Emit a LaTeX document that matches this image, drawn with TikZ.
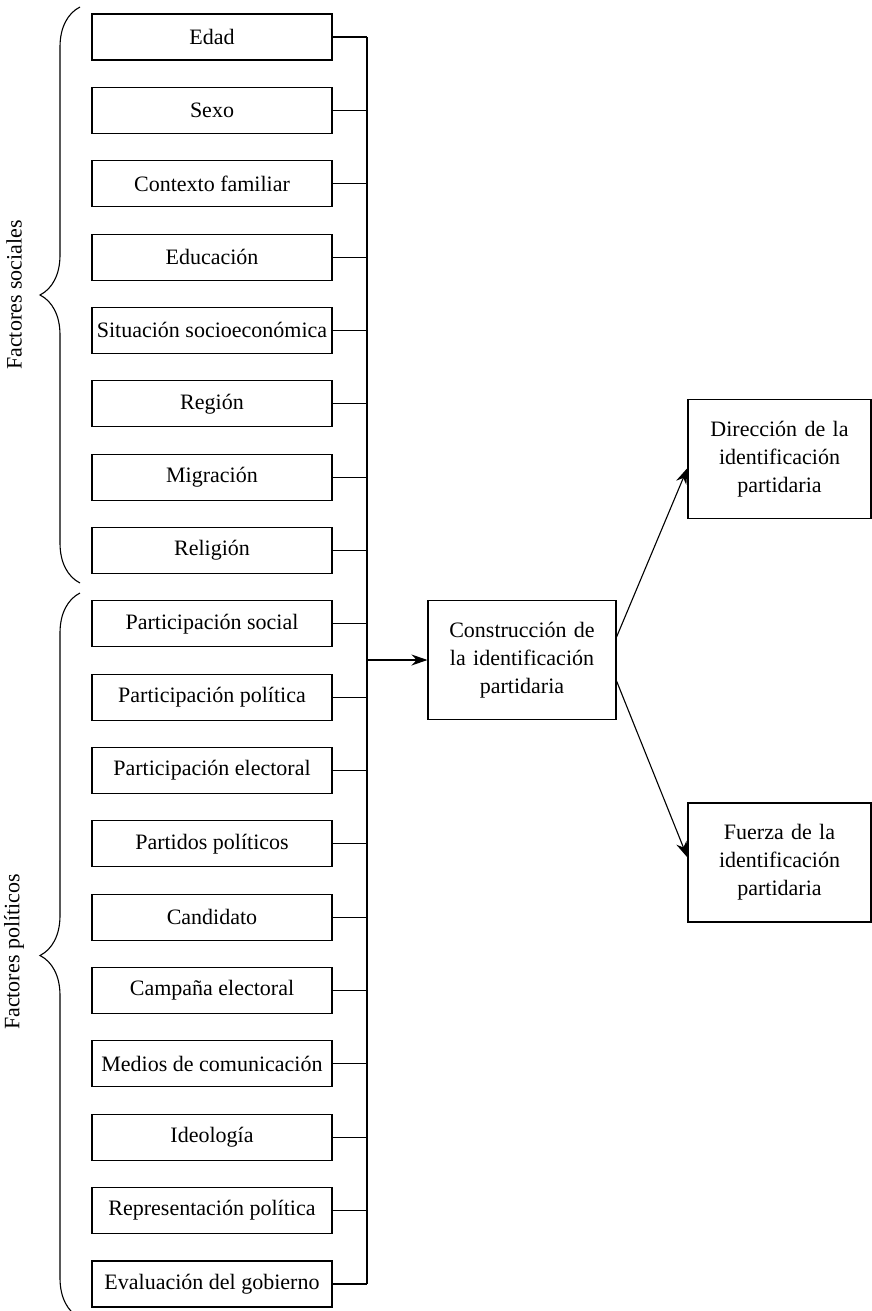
\documentclass[tikz,border=0pt]{standalone}
\usepackage{fontspec}
\setmainfont{Liberation Serif}
\usetikzlibrary{arrows.meta,decorations.pathreplacing}
\tikzstyle{block} = [rectangle, draw, text centered, minimum width=240pt, minimum height=46pt, inner sep=0pt, line width=1.1pt]
\tikzstyle{bigblock} = [rectangle, draw, text width=176pt, inner xsep=6pt, align=center, minimum height=119pt, line width=1.1pt]
\tikzstyle{wire} = [draw, line width=1.1pt]
\tikzstyle{line} = [draw, line width=1.1pt, -{Stealth[length=16pt,width=11pt]}]
\tikzstyle{group} = [draw, line width=1.1pt, decorate, decoration={brace, amplitude=40pt}]

\begin{document}
\begin{tikzpicture}[x=1pt, y=-1pt, font=\fontsize{22}{28}\selectfont]
    \useasboundingbox (0,0) rectangle (872,1311);
    % Place nodes
    \foreach \t [count=\i] in {Edad, Sexo, Contexto familiar, Educación,
        Situación socioeconómica, Región, Migración, Religión,
        Participación social, Participación política, Participación electoral,
        Partidos políticos, Candidato, Campaña electoral,
        Medios de comunicación, Ideología, Representación política,
        Evaluación del gobierno}
        \node [block] (f\i) at (212, {37+73.35*(\i-1)}) {\t};
    \node [bigblock] (cons) at (522,660) {Construcción de\\la identificación\\partidaria};
    \node [bigblock, text width=171pt] (dir) at (779.5,459) {Dirección de la\\identificación\\partidaria};
    \node [bigblock, text width=171pt] (fuer) at (779.5,862.5) {Fuerza de la\\identificación\\partidaria};
    \coordinate (bus) at (367,0);
    % Draw edges
    \foreach \i in {1,...,18}
        \path [wire] (f\i.east) -- (f\i.east -| bus);
    \path [wire] (f1.east -| bus) -- (f18.east -| bus);
    \path [line] (cons.west -| bus) -- (cons.west);
    \path [line] ([yshift=23pt]cons.east) -- ([yshift=-9pt]dir.west);
    \path [line] ([yshift=-21pt]cons.east) -- ([yshift=5pt]fuer.west);
    % Braces
    \path [group] (80,583) -- (80,7);
    \path [group] (80,1318) -- (80,593);
    \node [rotate=90] (soc) at (14,295) {Factores sociales};
    \node [rotate=90] (pol) at (14,952) {Factores políticos};
\end{tikzpicture}
\end{document}
